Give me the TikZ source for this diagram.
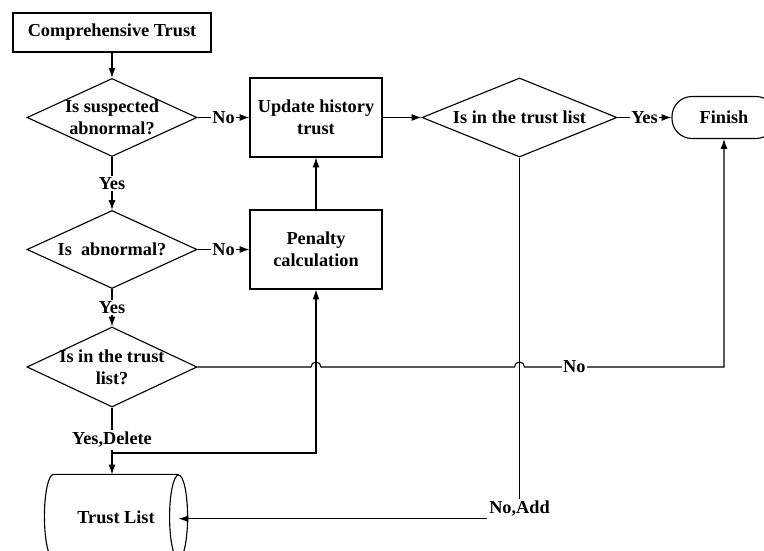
\documentclass[tikz,border=0pt]{standalone}
\usepackage{fontspec}
\setmainfont{Liberation Serif}
\usetikzlibrary{shapes.geometric, arrows.meta, calc}

\begin{document}
\begin{tikzpicture}[
    x=0.025cm, y=-0.025cm,
    font=\fontsize{13}{15.6}\selectfont\bfseries,
    line width=0.8pt,
    process/.style={rectangle, draw, minimum width=3.3cm, minimum height=1.975cm, align=center, inner sep=2pt},
    decision/.style={diamond, draw, aspect=2.2, inner sep=-4pt, minimum width=4.25cm, minimum height=1.95cm, align=center},
    terminal/.style={rectangle, draw, rounded corners=0.5cm, minimum width=2.6cm, minimum height=1.05cm},
    storage/.style={rectangle, minimum width=3.1cm, minimum height=2.1cm},
    lbl/.style={fill=white, inner sep=1pt},
    arrow/.style={-{Latex[length=7pt, width=5pt]}}
]
\clip (0,0) rectangle (764,551);

% left column
\node[process, minimum width=4.95cm, minimum height=0.975cm] (comp) at (112,32.5) {Comprehensive Trust};
\node[decision] (susp) at (112,117.5) {Is suspected\\abnormal?};
\node[decision] (abn) at (112,249.5) {Is\enspace abnormal?};
\node[decision, minimum height=2cm] (chk) at (112,367) {Is in the trust\\list?};
\node[inner sep=1pt] (ydel) at (112,440) {Yes,Delete};
\node[storage] (trust) at (116,517) {Trust List};

% middle and right
\node[process] (upd) at (316,117.5) {Update history\\trust};
\node[process] (pen) at (316,249.5) {Penalty\\calculation};
\node[decision, minimum width=4.875cm, minimum height=1.975cm] (inlist) at (519.5,117.5) {Is in the trust list};
\node[terminal] (fin) at (724,117.5) {Finish};
\node[inner sep=1pt] (noadd) at (519.5,509) {No,Add};
\coordinate (split) at (112,453);

% drum outline of the trust list
\draw (trust.north east) -- (trust.north west)
    arc[start angle=90, end angle=270, x radius=0.225cm, y radius=1.05cm]
    -- (trust.south east);
\draw (trust.east) ellipse[x radius=0.225cm, y radius=1.05cm];

\draw[arrow] (comp) -- (susp);
\draw[arrow] (susp) -- node[lbl]{No} (upd);
\draw[arrow] (upd) -- (inlist);
\draw[arrow] (inlist) -- node[lbl]{Yes} (fin);
\draw[arrow] (susp) -- node[lbl]{Yes} (abn);
\draw[arrow] (abn) -- node[lbl]{No} (pen);
\draw[arrow] (pen) -- (upd);
\draw[arrow] (abn) -- node[lbl]{Yes} (chk);

% no branch, hopping over the two vertical lines
\draw[arrow] (chk.east) -- ($(pen.south |- chk.east)+(-5,0)$)
    arc[start angle=180, end angle=0, radius=0.125cm]
    -- ($(inlist.south |- chk.east)+(-5,0)$)
    arc[start angle=180, end angle=0, radius=0.125cm]
    -- node[lbl, pos=0.25]{No} (fin.south |- chk.east) -- (fin.south);

\draw (chk.south) -- (ydel.north);
\draw (ydel.south) -- (split);
\draw[arrow] (split) -- (split |- trust.north);
\draw[arrow] (split) -| (pen.south);

\draw (inlist.south) -- (noadd.north);
\draw[arrow] (noadd.south west) -- (noadd.south west -| trust.east);

\end{tikzpicture}
\end{document}
